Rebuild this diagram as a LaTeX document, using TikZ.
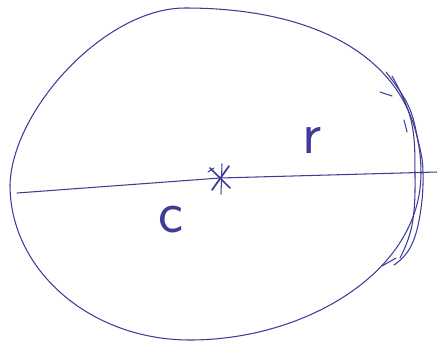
\documentclass[tikz,border=0pt]{standalone}
\usepackage{tikz}
\definecolor{cInk}{RGB}{62,60,150}

\begin{document}
\begin{tikzpicture}[x=0.02cm,y=-0.02cm,line join=round,line cap=round]
\useasboundingbox (0,0) rectangle (437,346);
\tikzset{ink/.style={cInk,line width=0.6pt},
  hand/.style={cInk,font=\fontsize{34}{34}\sffamily,inner sep=0pt}}
% outline
\draw[ink] (10,185) .. controls (12,110) and (105,8) .. (185,8)
  .. controls (330,8) and (421,68) .. (421,173)
  .. controls (421,272) and (305,340) .. (190,340)
  .. controls (90,340) and (10,270) .. (10,185);
% retraced right side
\draw[ink] plot[smooth,tension=0.7] coordinates {
  (386,72) (408,105) (418,140) (423,172) (420,215) (410,248) (394,265)};
\draw[ink] plot[smooth,tension=0.7] coordinates {
  (392,76) (411,120) (415,175) (412,225) (400,258)};
\draw[ink] (380,92) -- (392,96);
\draw[ink] (404,120) -- (407,132);
\draw[ink] (382,266) -- (396,258);
% center and line
\coordinate (west) at (17,193);
\coordinate (ctr) at (220,178);
\coordinate (east) at (437,172);
\draw[ink] (west) -- (ctr) -- (east);
\draw[ink,line width=1pt] (ctr) ++(-10,-10) -- ++(20,20);
\draw[ink,line width=1pt] (ctr) ++(9,-12) -- ++(-17,24);
\draw[ink] (ctr) ++(2,-14) -- ++(-1,30);
\draw[ink] (ctr) ++(-12,-6) -- ++(6,-4);
% labels
\node[hand] (rlab) at (312,140) {r};
\node[hand] (clab) at (171,220) {c};
\end{tikzpicture}
\end{document}
